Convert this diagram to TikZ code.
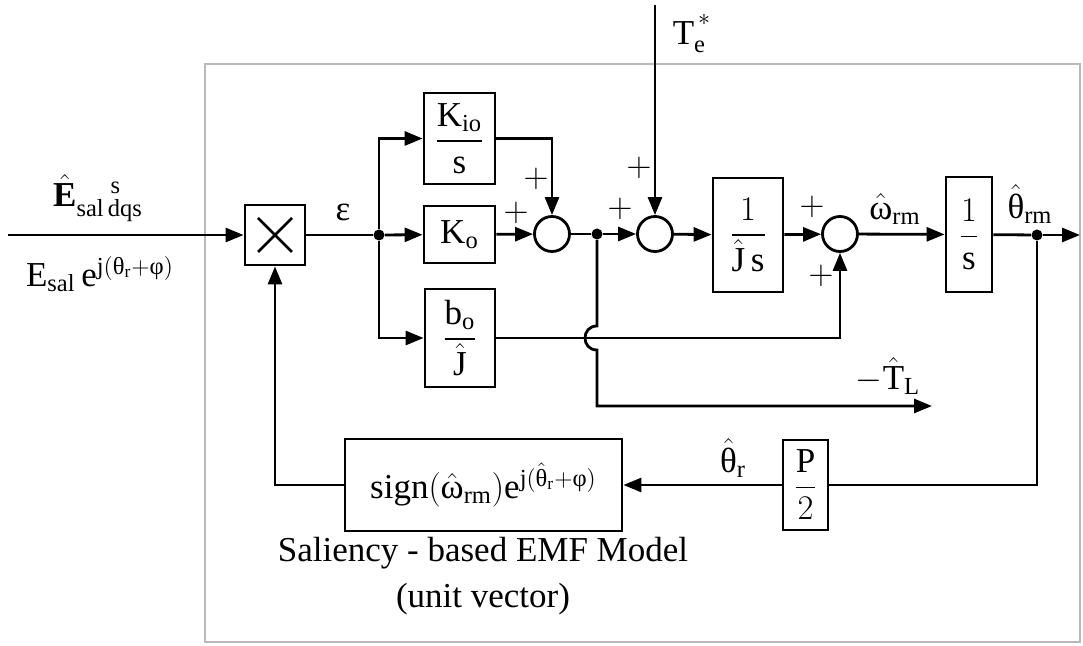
\documentclass[tikz,border=0pt]{standalone}
\usepackage{amsmath}
\usepackage{fontspec}
\setmainfont{Liberation Serif}
\usepackage{tikz}
\usetikzlibrary{arrows.meta}
\newcommand{\gr}[1]{\text{#1}}

\begin{document}
\begin{tikzpicture}[x=0.5pt, y=-0.5pt,
  font=\fontsize{17.5}{21}\selectfont,
  wire/.style={line width=1.4pt},
  sig/.style={wire, -{Triangle[length=9pt,width=7pt]}},
  block/.style={draw, line width=1.4pt, inner sep=0pt},
  sumjn/.style={circle, draw, line width=1.4pt, minimum size=17.5pt, inner sep=0pt},
  junc/.style={circle, fill, inner sep=0pt, minimum size=5.5pt},
  sign/.style={inner sep=1pt},
]
\useasboundingbox (0,0) rectangle (1083,646);

% observer frame
\draw[gray!55, line width=1pt] (205,64) rectangle (1080,642);

% input and multiplier
\coordinate (in) at (8,235);
\node (einhat) at (98,198) {$\hat{\mathbf{E}}_{\mathrm{sal\,dqs}}^{\hspace{17pt}\mathrm{s}}$};
\node (ein) at (100,274) {$\mathrm{E}_{\mathrm{sal}}\,\mathrm{e}^{\mathrm{j}(\gr{θ}_{\mathrm{r}}+\gr{φ})}$};
\node[block, minimum width=30pt, minimum height=30pt] (mult) at (275,235) {};
\draw[wire] (mult.center) +(-8.5pt,-8.5pt) -- +(8.5pt,8.5pt);
\draw[wire] (mult.center) +(-8.5pt,8.5pt) -- +(8.5pt,-8.5pt);
\node (eps) at (343,212) {ε};

% PI branches and load torque gain
\node[junc] (d1) at (379,235) {};
\node[block, minimum width=35.5pt, minimum height=45.5pt] (kio) at (459.5,138.5)
  {$\dfrac{\mathrm{K}_{\mathrm{io}}}{\mathrm{s}}$};
\node[block, minimum width=35.5pt, minimum height=28.5pt] (ko) at (459.5,234.5)
  {$\mathrm{K}_{\mathrm{o}}$};
\node[block, minimum width=35pt, minimum height=49pt] (bj) at (460,338)
  {$\dfrac{\mathrm{b}_{\mathrm{o}}}{\hat{\mathrm{J}}}$};
\node[sumjn] (sum1) at (552,234) {};
\node[junc] (d2) at (597,234) {};
\node[sumjn] (sum2) at (655,234) {};
\coordinate (te) at (655,5);
\node (telbl) at (692,34) {$\mathrm{T}_{\mathrm{e}}^{\,\raisebox{3pt}{$\scriptstyle *$}}$};
\node[block, minimum width=35pt, minimum height=57pt] (js) at (748,235)
  {$\dfrac{1}{\hat{\mathrm{J}}\,\mathrm{s}}$};
\node[sumjn] (sum3) at (840,234) {};
\node[block, minimum width=23pt, minimum height=57.5pt] (is) at (969,234.5)
  {$\dfrac{1}{\mathrm{s}}$};
\node[junc] (d3) at (1037,235) {};
\coordinate (out) at (1080,235);
\node (wlbl) at (895,209) {$\hat{\gr{ω}}_{\mathrm{rm}}$};
\node (thlbl) at (1030,204) {$\hat{\gr{θ}}_{\mathrm{rm}}$};

% signs
\node[sign] (pl1) at (536,179) {$+$};
\node[sign] (pl2) at (516,213) {$+$};
\node[sign] (pl3) at (620,209) {$+$};
\node[sign] (pl4) at (639,168) {$+$};
\node[sign] (pl5) at (812,207) {$+$};
\node[sign] (pl6) at (821,276) {$+$};

% load torque estimate
\coordinate (hopa) at (597,326);
\coordinate (hopb) at (597,350);
\coordinate (tl) at (932,406);
\node (tllbl) at (888,376) {$-\hat{\mathrm{T}}_{\mathrm{L}}$};

% feedback path
\node[block, minimum width=22.5pt, minimum height=45pt] (p2) at (805.5,485)
  {$\dfrac{\mathrm{P}}{2}$};
\node[block, minimum width=138.5pt, minimum height=46pt] (emf) at (483.5,485)
  {$\mathrm{sign}(\hat{\gr{ω}}_{\mathrm{rm}})\mathrm{e}^{\mathrm{j}(\hat{\gr{θ}}_{\mathrm{r}}+\gr{φ})}$};
\node (thr) at (733,458) {$\hat{\gr{θ}}_{\mathrm{r}}$};
\node[align=center] (caption) at (483,576) {Saliency - based EMF Model\\[2pt](unit vector)};

% connectors
\draw[sig] (in) -- (mult);
\draw[wire] (mult) -- (d1);
\draw[sig] (d1) |- (kio.west);
\draw[sig] (d1) -- (ko);
\draw[sig] (d1) |- (bj.west);
\draw[sig] (kio.east) -| (sum1.north);
\draw[sig] (ko) -- (sum1);
\draw[wire] (sum1) -- (d2);
\draw[sig] (d2) -- (sum2);
\draw[sig] (te) -- (sum2);
\draw[sig] (sum2) -- (js);
\draw[sig] (js) -- (sum3);
\draw[sig] (bj.east) -| (sum3.south);
\draw[sig] (sum3) -- (is);
\draw[wire] (is) -- (d3);
\draw[sig] (d3) -- (out);
\draw[sig] (d2) -- (hopa) .. controls +(-16,0) and +(-16,0) .. (hopb) |- (tl);
\draw[wire] (d3) |- (p2.east);
\draw[sig] (p2) -- (emf);
\draw[sig] (emf.west) -| (mult.south);

\end{tikzpicture}
\end{document}
